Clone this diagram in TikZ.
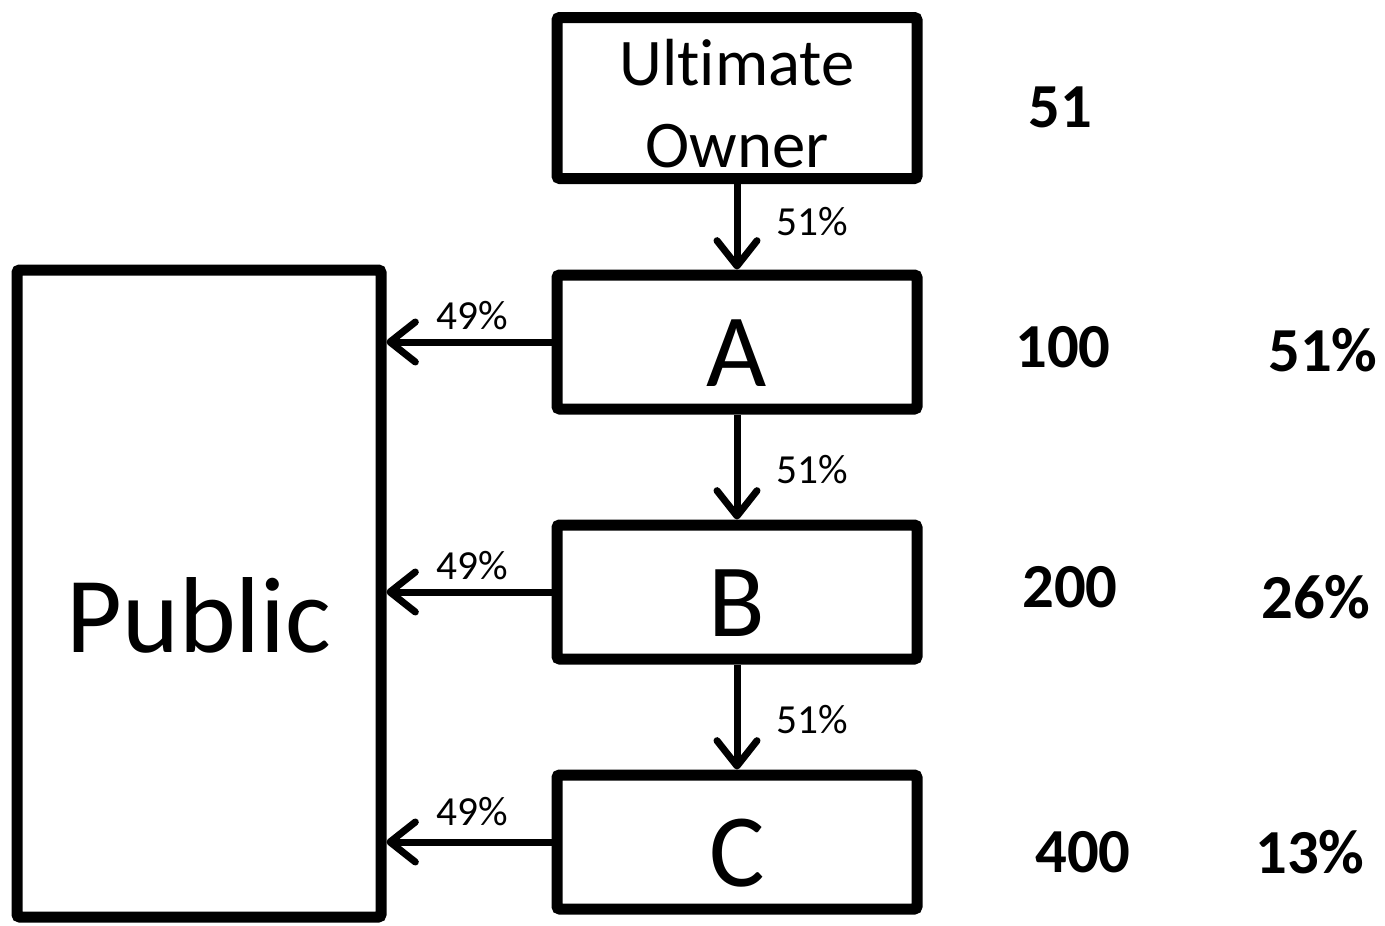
\documentclass[tikz,border=0pt]{standalone}
\usepackage{fontspec}
\setmainfont[Ligatures=NoCommon]{Carlito}
\usetikzlibrary{arrows.meta}
\tikzset{
  box/.style={draw, line width=8.25pt, rounded corners=2pt, inner sep=0pt, align=center, minimum width=270pt, minimum height=100.5pt},
  letter/.style={font=\fontsize{78}{90}\selectfont, text height=66pt, text depth=0pt},
  link/.style={line width=5.25pt, -{Straight Barb[length=19pt, width=30pt, line width=5.25pt, line cap=round, round]}},
  pct/.style={font=\fontsize{31}{36}\selectfont, inner sep=0pt},
  num/.style={font=\fontsize{47}{54}\selectfont\bfseries, inner sep=0pt}
}
\begin{document}
\begin{tikzpicture}[x=0.75pt, y=-0.75pt]
\useasboundingbox (0,0) rectangle (1385,925);
\node[box, minimum height=120.75pt, font=\fontsize{50}{61.5}\selectfont, text height=103.5pt, text depth=0pt] (U) at (737,98) {Ultimate\\Owner};
\node[box, letter] (A) at (737,342) {A};
\node[box, letter] (B) at (737,592) {B};
\node[box, letter] (C) at (737,842) {C};
\node[box, minimum width=273pt, minimum height=485.25pt, font=\fontsize{81}{95}\selectfont, text height=89pt, text depth=0pt] (P) at (199,593.5) {Public};
\draw[link] (U.south) -- (A.north);
\draw[link] (A.south) -- (B.north);
\draw[link] (B.south) -- (C.north);
\draw[link] (A.west) -- (A.west -| P.east);
\draw[link] (B.west) -- (B.west -| P.east);
\draw[link] (C.west) -- (C.west -| P.east);
\node[pct] (l1) at (812,222) {51\%};
\node[pct] (l2) at (812,470) {51\%};
\node[pct] (l3) at (812,720) {51\%};
\node[pct] (m1) at (472,316) {49\%};
\node[pct] (m2) at (472,566) {49\%};
\node[pct] (m3) at (472,812) {49\%};
\node[num] (n0) at (1060,107) {51};
\node[num] (n1) at (1063,347) {100};
\node[num] (n2) at (1070,587) {200};
\node[num] (n3) at (1083,852) {400};
\node[num] (p1) at (1323,350) {51\%};
\node[num] (p2) at (1316,597) {26\%};
\node[num] (p3) at (1310,852) {13\%};
\end{tikzpicture}
\end{document}
